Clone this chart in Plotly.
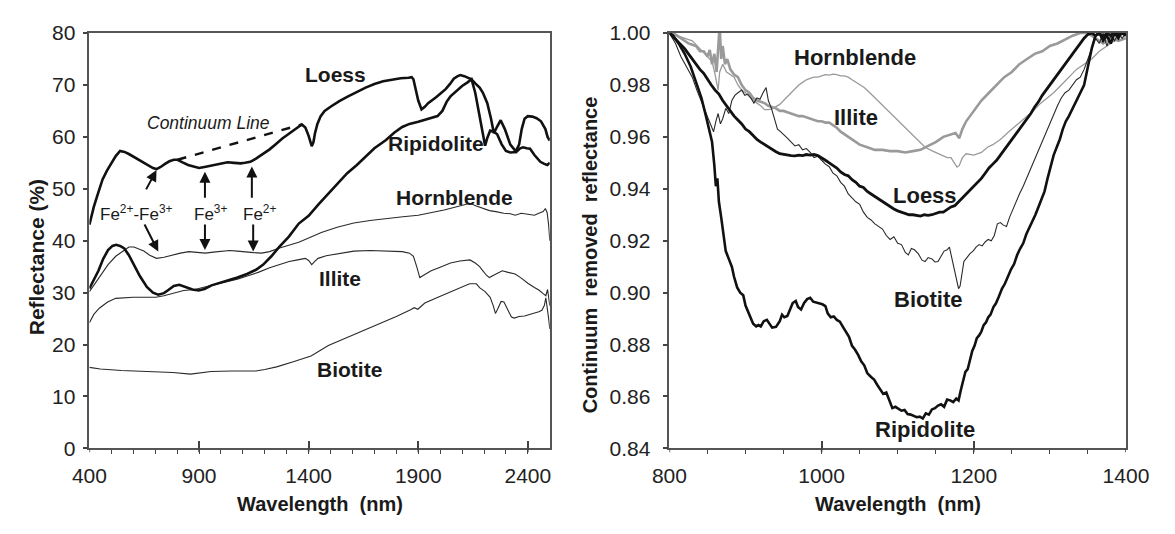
import plotly.graph_objects as go

# ---------------- DATA ----------------
# Left panel: reflectance (%) vs wavelength (nm)
loess_l = [(400,43.1),(420,46.5),(440,49.2),(460,51.8),(480,53.5),(500,55.0),(520,56.3),(540,57.3),(560,57.1),
           (580,56.7),(600,56.2),(630,55.5),(660,54.8),(690,54.0),(706,53.8),(725,54.2),(745,54.8),(765,55.3),
           (785,55.6),(802,55.6),(825,55.1),(850,54.6),(875,54.3),(900,54.0),(925,54.2),(950,54.4),(975,54.7),
           (1000,54.9),(1030,55.1),(1060,55.0),(1090,54.9),(1110,55.0),(1134,55.2),(1160,55.8),(1190,56.6),
           (1222,57.6),(1250,58.6),(1280,59.7),(1310,60.6),(1340,61.5),(1369,62.4),(1385,61.8),(1400,60.2),
           (1414,58.2),(1422,59.0),(1429,60.7),(1440,62.5),(1455,64.0),(1473,65.0),(1500,65.8),(1540,66.9),
           (1580,67.8),(1620,68.7),(1660,69.5),(1700,70.2),(1740,70.7),(1780,71.0),(1820,71.3),(1856,71.4),
           (1870,71.5),(1878,71.1),(1890,69.0),(1900,67.0),(1915,65.3),(1930,65.8),(1945,66.5),(1960,66.9),
           (1980,67.6),(2003,68.4),(2025,69.2),(2045,70.2),(2062,71.2),(2080,71.7),(2092,71.9),(2110,71.7),
           (2130,71.3),(2143,71.1),(2160,70.3),(2180,69.5),(2195,68.5),(2215,66.5),(2232,63.5),(2245,60.7),
           (2260,62.0),(2276,63.2),(2295,61.5),(2320,58.5),(2345,57.2),(2360,58.5),(2372,61.5),(2385,63.5),
           (2400,64.0),(2420,63.9),(2440,63.6),(2460,63.0),(2480,61.5),(2490,60.0),(2500,59.3)]

ripidolite_l = [(400,30.8),(420,32.5),(441,34.2),(463,36.5),(485,38.2),(505,39.0),(522,39.2),(540,39.0),(559,38.5),
                (580,37.2),(603,35.4),(630,33.2),(662,31.1),(690,30.0),(714,29.6),(740,29.9),(760,30.5),(785,31.3),
                (810,31.5),(840,31.0),(870,30.6),(898,30.4),(925,30.7),(957,31.4),(990,31.8),(1031,32.3),(1075,32.9),
                (1119,33.6),(1160,34.4),(1193,35.4),(1230,37.0),(1266,38.8),(1310,40.8),(1355,43.3),(1400,44.8),
                (1445,47.0),(1488,49.0),(1530,51.0),(1576,53.0),(1620,54.6),(1660,56.3),(1700,57.8),(1753,59.4),
                (1790,60.8),(1827,61.9),(1860,62.5),(1900,62.9),(1940,63.4),(1988,64.0),(2010,65.0),(2030,66.8),
                (2047,67.8),(2075,68.8),(2100,69.8),(2125,70.5),(2143,71.1),(2160,68.5),(2175,65.0),(2190,61.0),
                (2205,58.3),(2215,59.8),(2228,61.2),(2245,61.0),(2260,60.5),(2280,58.6),(2300,57.3),(2320,57.0),
                (2347,57.1),(2365,57.8),(2378,58.0),(2395,57.8),(2410,57.7),(2430,56.5),(2457,55.2),(2475,54.8),
                (2489,54.6),(2500,55.0)]

hornblende_l = [(400,30.2),(430,32.0),(460,33.8),(485,35.4),(520,37.0),(559,38.2),(580,38.8),(603,38.8),(625,38.4),
                (648,38.0),(675,37.2),(706,36.6),(740,36.8),(780,37.3),(815,37.6),(854,37.9),(890,37.7),(928,37.6),
                (965,37.8),(1001,38.0),(1040,38.1),(1075,38.0),(1110,37.8),(1149,37.7),(1185,37.6),(1222,37.9),
                (1260,38.5),(1296,38.9),(1330,39.3),(1355,39.7),(1400,40.5),(1458,41.6),(1530,42.6),(1606,43.4),
                (1680,43.9),(1753,44.3),(1830,44.6),(1900,44.9),(1960,45.4),(2018,45.9),(2080,46.6),(2136,47.2),
                (2165,46.7),(2195,46.2),(2225,45.8),(2254,45.6),(2290,45.3),(2320,45.2),(2342,44.9),(2370,45.3),
                (2400,45.1),(2430,44.9),(2450,45.3),(2470,45.6),(2480,46.2),(2488,45.4),(2495,43.0),(2500,40.0)]

illite_l = [(400,24.2),(420,25.8),(445,27.0),(483,28.2),(520,28.9),(546,29.0),(600,29.1),(650,29.1),(703,29.1),
            (740,29.4),(780,29.9),(830,30.4),(880,30.6),(928,31.1),(980,31.6),(1030,32.1),(1075,32.6),(1120,33.2),
            (1170,33.9),(1222,34.8),(1270,35.5),(1311,36.0),(1350,36.3),(1385,36.6),(1400,36.2),(1414,35.4),
            (1428,36.0),(1443,36.6),(1480,37.1),(1530,37.5),(1606,38.0),(1680,38.1),(1750,38.0),(1827,37.9),
            (1860,37.6),(1878,37.0),(1893,35.0),(1907,32.9),(1930,33.5),(1959,34.2),(2000,34.9),(2047,35.7),
            (2090,36.1),(2136,36.3),(2160,35.7),(2180,35.0),(2195,34.2),(2210,33.4),(2224,32.9),(2250,33.5),
            (2283,34.2),(2310,33.9),(2342,33.6),(2370,32.8),(2400,31.8),(2430,31.0),(2450,30.5),(2470,29.8),
            (2482,29.4),(2490,30.6),(2495,29.0),(2500,27.5)]

biotite_l = [(400,15.6),(450,15.3),(546,15.0),(620,14.9),(703,14.8),(780,14.6),(861,14.3),(900,14.5),(955,14.8),
             (1050,14.9),(1159,14.9),(1200,15.2),(1254,15.7),(1330,16.7),(1411,17.8),(1490,19.8),(1568,21.2),
             (1650,22.6),(1725,24.0),(1800,25.4),(1865,26.7),(1882,27.1),(1898,26.8),(1930,28.0),(1990,29.1),
             (2040,30.0),(2090,31.0),(2134,31.7),(2165,31.7),(2181,30.9),(2205,30.2),(2228,29.1),(2242,27.5),
             (2252,26.0),(2262,26.8),(2278,28.3),(2291,28.2),(2310,26.5),(2325,25.3),(2338,25.1),(2360,25.4),
             (2385,25.5),(2410,25.8),(2432,26.0),(2450,26.3),(2464,26.6),(2475,27.5),(2482,29.0),(2488,26.5),
             (2495,25.0),(2500,23.0)]

continuum_line = [(802,55.6),(1369,62.4)]

# Right panel: continuum removed reflectance vs wavelength (nm)
ripidolite_r = [(800,1.000),(805,0.999),(812,0.996),(820,0.992),(828,0.987),(835,0.981),(842,0.975),(848,0.968),
                (853,0.962),(856,0.958),(859,0.949),(861,0.941),(863,0.944),(865,0.935),(868,0.929),(870,0.925),
                (872,0.921),(874,0.916),(878,0.913),(882,0.910),(885,0.906),(889,0.902),(893,0.900),(897,0.899),
                (900,0.895),(904,0.892),(907,0.890),(910,0.888),(914,0.887),(917,0.8875),(920,0.887),(924,0.889),
                (928,0.8895),(931,0.888),(935,0.8865),(940,0.8868),(945,0.889),(948,0.8915),(951,0.8905),(955,0.891),
                (958,0.8935),(962,0.896),(966,0.8968),(969,0.8945),(973,0.8935),(977,0.896),(981,0.8975),(985,0.898),
                (989,0.8965),(993,0.8962),(997,0.8958),(1001,0.8955),(1005,0.8948),(1008,0.892),(1012,0.8905),
                (1016,0.8908),(1020,0.8895),(1024,0.8888),(1028,0.8868),(1032,0.885),(1036,0.883),(1040,0.8795),
                (1044,0.878),(1048,0.876),(1052,0.8735),(1056,0.872),(1060,0.869),(1065,0.8675),(1069,0.8665),
                (1073,0.8645),(1077,0.8625),(1081,0.861),(1085,0.8615),(1089,0.8585),(1093,0.8555),(1097,0.856),
                (1101,0.8552),(1105,0.8545),(1109,0.8548),(1113,0.8532),(1117,0.853),(1121,0.8525),(1125,0.852),
                (1129,0.8522),(1133,0.8515),(1137,0.8535),(1141,0.853),(1145,0.855),(1149,0.8555),(1153,0.8565),
                (1157,0.857),(1161,0.856),(1165,0.8588),(1169,0.8585),(1173,0.8578),(1177,0.8592),(1180,0.8585),
                (1183,0.8625),(1186,0.8665),(1189,0.8695),(1192,0.8705),(1195,0.874),(1198,0.8775),(1201,0.8795),
                (1204,0.8825),(1207,0.8835),(1210,0.885),(1213,0.8875),(1216,0.8885),(1219,0.8905),(1222,0.8915),
                (1226,0.8945),(1229,0.8958),(1233,0.8985),(1237,0.9015),(1241,0.9035),(1245,0.9065),(1249,0.909),
                (1253,0.911),(1257,0.9145),(1261,0.917),(1265,0.919),(1269,0.9225),(1273,0.925),(1277,0.927),
                (1281,0.930),(1285,0.933),(1289,0.936),(1293,0.939),(1297,0.944),(1301,0.949),(1305,0.953),
                (1309,0.956),(1313,0.959),(1317,0.963),(1321,0.966),(1325,0.968),(1330,0.971),(1335,0.974),
                (1340,0.977),(1345,0.980),(1350,0.987),(1355,0.994),(1360,0.999),(1365,1.000),(1370,0.997),
                (1375,0.999),(1380,0.996),(1385,1.000),(1390,0.998),(1395,1.001),(1400,0.999)]

biotite_r = [(800,1.000),(808,0.996),(815,0.991),(822,0.987),(830,0.983),(836,0.978),(842,0.974),(847,0.970),
             (851,0.967),(855,0.964),(858,0.962),(861,0.966),(864,0.969),(867,0.965),(870,0.967),(874,0.971),
             (878,0.969),(882,0.974),(886,0.976),(890,0.977),(895,0.978),(899,0.976),(903,0.9765),(907,0.975),
             (911,0.973),(915,0.975),(919,0.9745),(923,0.977),(927,0.979),(930,0.974),(934,0.971),(938,0.967),
             (942,0.963),(946,0.962),(950,0.961),(955,0.9595),(960,0.958),(965,0.9565),(970,0.957),(975,0.955),
             (980,0.9555),(985,0.954),(990,0.952),(995,0.9525),(1000,0.951),(1005,0.9495),(1010,0.9485),
             (1015,0.946),(1020,0.945),(1025,0.9425),(1030,0.941),(1035,0.938),(1040,0.9365),(1045,0.935),
             (1050,0.934),(1055,0.931),(1060,0.929),(1065,0.928),(1070,0.9265),(1075,0.9255),(1080,0.9245),
             (1085,0.922),(1090,0.9205),(1095,0.9215),(1100,0.919),(1105,0.9185),(1110,0.9155),(1114,0.9145),
             (1118,0.917),(1122,0.9165),(1127,0.915),(1132,0.9125),(1136,0.912),(1140,0.9135),(1145,0.913),
             (1149,0.9118),(1153,0.912),(1157,0.914),(1161,0.916),(1165,0.9165),(1168,0.9175),(1171,0.9135),
             (1174,0.909),(1177,0.905),(1180,0.9015),(1182,0.9025),(1184,0.907),(1187,0.912),(1191,0.9135),
             (1195,0.915),(1199,0.916),(1203,0.9175),(1207,0.9185),(1211,0.918),(1215,0.9195),(1219,0.9205),
             (1223,0.920),(1227,0.922),(1231,0.9265),(1235,0.927),(1239,0.926),(1243,0.9255),(1247,0.929),
             (1251,0.932),(1255,0.935),(1260,0.938),(1265,0.941),(1270,0.9445),(1275,0.948),(1280,0.951),
             (1285,0.955),(1290,0.9585),(1295,0.962),(1300,0.9655),(1305,0.969),(1310,0.972),(1315,0.975),
             (1320,0.977),(1325,0.978),(1330,0.980),(1335,0.982),(1340,0.983),(1345,0.986),(1350,0.990),
             (1355,0.994),(1360,0.998),(1365,0.996),(1370,1.000),(1375,0.995),(1380,0.999),(1385,0.997),
             (1390,1.000),(1395,0.998),(1400,1.000)]

loess_r = [(800,1.000),(805,0.9985),(810,0.997),(815,0.9955),(820,0.994),(825,0.992),(830,0.990),(835,0.988),
           (840,0.986),(845,0.9845),(850,0.982),(855,0.980),(860,0.978),(865,0.9765),(870,0.974),(875,0.972),
           (880,0.970),(885,0.968),(890,0.9665),(895,0.965),(900,0.963),(905,0.962),(910,0.9605),(915,0.959),
           (920,0.958),(925,0.957),(930,0.956),(935,0.955),(940,0.9543),(945,0.9535),(950,0.9532),(955,0.953),
           (960,0.9528),(965,0.9527),(970,0.953),(975,0.9528),(980,0.9532),(985,0.953),(990,0.9532),(995,0.9528),
           (1000,0.952),(1005,0.951),(1010,0.950),(1015,0.949),(1020,0.948),(1025,0.9465),(1030,0.9455),
           (1035,0.945),(1040,0.9435),(1045,0.9425),(1050,0.941),(1055,0.9405),(1060,0.939),(1065,0.938),
           (1070,0.937),(1075,0.936),(1080,0.935),(1085,0.934),(1090,0.933),(1095,0.9322),(1100,0.9315),
           (1105,0.931),(1110,0.9305),(1115,0.930),(1120,0.930),(1125,0.9298),(1130,0.9295),(1135,0.930),
           (1140,0.9298),(1145,0.930),(1150,0.9305),(1155,0.931),(1160,0.931),(1165,0.932),(1170,0.933),
           (1175,0.9335),(1180,0.935),(1185,0.9365),(1190,0.938),(1195,0.9395),(1200,0.941),(1205,0.9425),
           (1210,0.944),(1215,0.946),(1220,0.948),(1225,0.9495),(1230,0.951),(1235,0.953),(1240,0.955),
           (1245,0.957),(1250,0.959),(1255,0.961),(1260,0.963),(1265,0.965),(1270,0.967),(1275,0.969),
           (1280,0.9715),(1285,0.9735),(1290,0.976),(1295,0.978),(1300,0.980),(1305,0.982),(1310,0.984),
           (1315,0.986),(1320,0.988),(1325,0.990),(1330,0.992),(1335,0.994),(1340,0.996),(1345,0.998),
           (1350,0.9995),(1355,1.000),(1360,0.999),(1365,1.000),(1370,0.9985),(1375,1.000),(1380,0.999),
           (1385,1.001),(1390,0.999),(1395,1.000),(1400,0.999)]

illite_r = [(800,1.000),(805,1.000),(810,0.999),(815,0.998),(820,0.997),(825,0.996),(830,0.9955),(835,0.995),
            (840,0.993),(845,0.993),(850,0.991),(853,0.9935),(856,0.988),(859,0.992),(862,0.985),(864,0.994),
            (866,1.003),(868,0.990),(870,0.995),(873,0.988),(876,0.990),(880,0.986),(885,0.984),(890,0.983),
            (895,0.980),(900,0.978),(905,0.977),(910,0.975),(915,0.974),(920,0.9735),(925,0.973),(930,0.972),
            (935,0.9715),(940,0.971),(945,0.970),(950,0.970),(955,0.9695),(960,0.969),(965,0.9685),(970,0.968),
            (975,0.968),(980,0.9675),(985,0.967),(990,0.9665),(995,0.966),(1000,0.966),(1005,0.9655),(1010,0.9655),
            (1015,0.9645),(1020,0.9635),(1025,0.962),(1030,0.961),(1035,0.960),(1040,0.959),(1045,0.958),
            (1050,0.957),(1060,0.956),(1070,0.955),(1080,0.955),(1090,0.9545),(1100,0.9545),(1110,0.954),
            (1120,0.9545),(1130,0.955),(1140,0.9565),(1150,0.958),(1160,0.960),(1170,0.961),(1176,0.9615),
            (1181,0.9595),(1185,0.963),(1190,0.966),(1200,0.970),(1210,0.974),(1220,0.977),(1230,0.980),
            (1240,0.983),(1250,0.985),(1260,0.988),(1270,0.990),(1280,0.992),(1290,0.993),(1300,0.995),
            (1310,0.996),(1320,0.9975),(1330,0.999),(1340,1.000),(1350,1.000),(1360,0.998),(1370,0.996),
            (1380,0.998),(1390,0.997),(1400,0.998)]

hornblende_r = [(800,1.000),(810,0.999),(820,0.998),(830,0.997),(840,0.994),(850,0.991),(856,0.989),(860,0.984),
                (864,0.978),(866,0.985),(870,0.988),(875,0.985),(880,0.984),(885,0.983),(890,0.980),(895,0.978),
                (900,0.977),(905,0.9755),(910,0.974),(915,0.973),(920,0.972),(925,0.9705),(930,0.9705),(935,0.9708),
                (940,0.9715),(945,0.9725),(950,0.974),(955,0.9755),(960,0.977),(965,0.9785),(970,0.980),(975,0.981),
                (980,0.982),(985,0.9825),(990,0.983),(995,0.983),(1000,0.9835),(1005,0.984),(1010,0.9838),
                (1015,0.9842),(1020,0.984),(1025,0.9835),(1030,0.9835),(1035,0.983),(1040,0.982),(1045,0.981),
                (1050,0.980),(1056,0.979),(1065,0.9765),(1077,0.973),(1088,0.970),(1098,0.967),(1108,0.964),
                (1119,0.961),(1128,0.958),(1136,0.956),(1146,0.9545),(1157,0.953),(1165,0.952),(1170,0.952),
                (1174,0.950),(1178,0.9484),(1181,0.949),(1185,0.952),(1190,0.9535),(1200,0.953),(1210,0.954),
                (1218,0.956),(1225,0.957),(1235,0.959),(1246,0.962),(1256,0.9645),(1267,0.967),(1278,0.970),
                (1288,0.973),(1297,0.975),(1305,0.977),(1315,0.980),(1325,0.983),(1335,0.986),(1345,0.988),
                (1355,0.990),(1365,0.993),(1375,0.995),(1385,0.997),(1392,0.999),(1400,1.000)]

left_xticks = [400, 900, 1400, 1900, 2400]
left_yticks = [0, 10, 20, 30, 40, 50, 60, 70, 80]
right_xticks = [800, 1000, 1200, 1400]
right_yticks = [0.84, 0.86, 0.88, 0.90, 0.92, 0.94, 0.96, 0.98, 1.00]

# labels: (text, x, y)
left_labels = [("Loess", 1521, 72.1), ("Ripidolite", 1981, 58.8), ("Hornblende", 2065, 48.4),
               ("Illite", 1544, 32.8), ("Biotite", 1588, 15.1)]
right_labels = [("Hornblende", 1044, 0.9905), ("Illite", 1045, 0.9675), ("Loess", 1136, 0.9373),
                ("Biotite", 1140, 0.8972), ("Ripidolite", 1136, 0.8473)]
fe_labels = [("Fe<sup>2+</sup>-Fe<sup>3+</sup>", 617, 45.3), ("Fe<sup>3+</sup>", 953, 45.3), ("Fe<sup>2+</sup>", 1174, 45.3)]
# arrows: (tail_x, tail_y, tip_x, tip_y)
fe_arrows = [(655, 49.6, 706, 53.6), (648, 43.4, 714, 37.9), (927, 48.0, 927, 53.3),
             (927, 43.4, 927, 38.2), (1141, 48.0, 1141, 54.3), (1147, 43.4, 1147, 37.9)]

# ---------------- FIGURE ----------------
W, H = 1175, 534
FONT = "Liberation Sans, Arial, sans-serif"
TOP, BOT = 22, 456
LPX, RPX = (74, 551), (675, 1148)

def dom_x(a, b):
    return [a / W, b / W]

ydom = [1 - BOT / H, 1 - TOP / H]

def xy(pairs):
    return [p[0] for p in pairs], [p[1] for p in pairs]

fig = go.Figure()

def add(pairs, axis, color, width, dash="solid"):
    x, y = xy(pairs)
    fig.add_trace(go.Scatter(x=x, y=y, mode="lines", xaxis="x" + axis, yaxis="y" + axis,
                             line=dict(color=color, width=width, dash=dash), showlegend=False,
                             hoverinfo="skip"))

THIN = "#2a2a2a"
GREY = "#9a9a9a"
add(biotite_l, "", THIN, 1.1)
add(illite_l, "", THIN, 1.1)
add(hornblende_l, "", THIN, 1.1)
add(ripidolite_l, "", "#111", 2.6)
add(loess_l, "", "#111", 2.6)
add(continuum_line, "", "#111", 2.4, dash="dash")

add(hornblende_r, "2", GREY, 1.3)
add(illite_r, "2", GREY, 2.6)
add(biotite_r, "2", THIN, 1.1)
add(loess_r, "2", "#111", 2.8)
add(ripidolite_r, "2", "#111", 2.6)

tickfont = dict(family=FONT, size=21, color="#222")
common_axis = dict(showgrid=False, zeroline=False, showline=True, linecolor="#555", linewidth=1.5,
                   mirror=True, tickfont=tickfont, tickcolor="#444")

fig.update_layout(
    width=W, height=H, margin=dict(l=0, r=0, t=0, b=0),
    paper_bgcolor="white", plot_bgcolor="white",
    xaxis=dict(common_axis, domain=dom_x(*LPX), anchor="y", range=[400, 2500], tickvals=left_xticks,
               ticks="inside", ticklen=8, tickwidth=1.5, ticklabelstandoff=8,
               minor=dict(dtick=100, tick0=400, ticks="outside", ticklen=4, tickwidth=1.2, tickcolor="#444")),
    yaxis=dict(common_axis, domain=ydom, anchor="x", range=[0, 80], tickvals=left_yticks,
               ticks="outside", ticklen=5, tickwidth=1.5, ticklabelstandoff=3),
    xaxis2=dict(common_axis, domain=dom_x(*RPX), anchor="y2", range=[800, 1400], tickvals=right_xticks,
                ticks="inside", ticklen=8, tickwidth=1.5, ticklabelstandoff=8,
                minor=dict(dtick=50, tick0=800, ticks="outside", ticklen=4, tickwidth=1.2, tickcolor="#444")),
    yaxis2=dict(common_axis, domain=ydom, anchor="x2", range=[0.84, 1.0], tickvals=right_yticks,
                tickformat=".2f", ticks="outside", ticklen=5, tickwidth=1.5, ticklabelstandoff=8),
)

# outside part of the crossing major x ticks
shapes = []
for xv in left_xticks:
    shapes.append(dict(type="line", xref="x", yref="y domain", x0=xv, x1=xv, y0=0, y1=-4 / (BOT - TOP),
                       line=dict(color="#444", width=1.5)))
for xv in right_xticks:
    shapes.append(dict(type="line", xref="x2", yref="y2 domain", x0=xv, x1=xv, y0=0, y1=-4 / (BOT - TOP),
                       line=dict(color="#444", width=1.5)))
fig.update_layout(shapes=shapes)

ann = []
for t, x, y in left_labels:
    ann.append(dict(text="<b>%s</b>" % t, x=x, y=y, xref="x", yref="y", showarrow=False,
                    font=dict(family=FONT, size=21, color="#1a1a1a")))
for t, x, y in right_labels:
    ann.append(dict(text="<b>%s</b>" % t, x=x, y=y, xref="x2", yref="y2", showarrow=False,
                    font=dict(family=FONT, size=22, color="#1a1a1a")))
for t, x, y in fe_labels:
    ann.append(dict(text=t, x=x, y=y, xref="x", yref="y", showarrow=False,
                    font=dict(family=FONT, size=17, color="#1a1a1a")))
ann.append(dict(text="<i>Continuum Line</i>", x=942, y=62.7, xref="x", yref="y", showarrow=False,
                font=dict(family=FONT, size=17.5, color="#1a1a1a")))
for tx, ty, hx, hy in fe_arrows:
    ann.append(dict(text="", x=hx, y=hy, ax=tx, ay=ty, xref="x", yref="y", axref="x", ayref="y",
                    showarrow=True, arrowhead=2, arrowsize=1.1, arrowwidth=2, arrowcolor="#111"))

title_font = dict(family=FONT, size=20, color="#1a1a1a")
for px0, px1 in (LPX, RPX):
    ann.append(dict(text="<b>Wavelength  (nm)</b>", x=(px0 + px1) / 2 / W, y=1 - 514 / H, xref="paper",
                    yref="paper", xanchor="center", yanchor="middle", showarrow=False, font=title_font))
ann.append(dict(text="<b>Reflectance (%)</b>", x=20 / W, y=1 - 256 / H, xref="paper", yref="paper",
                xanchor="center", yanchor="middle", showarrow=False, textangle=-90,
                font=dict(family=FONT, size=21, color="#1a1a1a")))
ann.append(dict(text="<b>Continuum  removed  reflectance</b>", x=593 / W, y=1 - 254 / H, xref="paper",
                yref="paper", xanchor="center", yanchor="middle", showarrow=False, textangle=-90,
                font=dict(family=FONT, size=20, color="#1a1a1a")))
fig.update_layout(annotations=ann)

fig.write_html("out.html")
